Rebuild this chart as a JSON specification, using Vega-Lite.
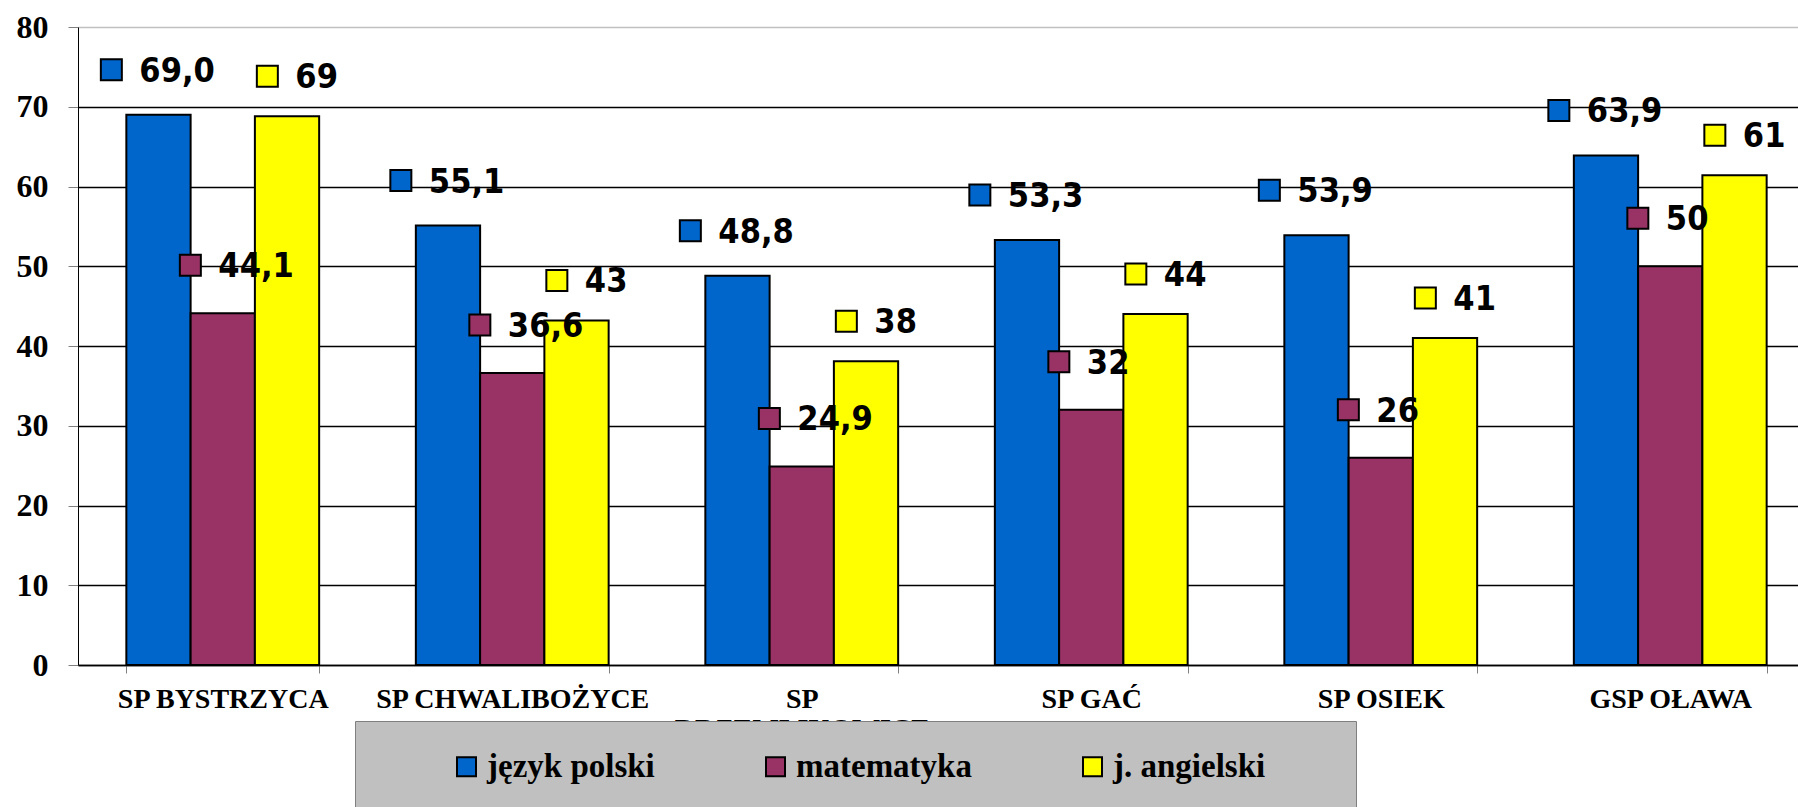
{
  "$schema": "https://vega.github.io/schema/vega-lite/v6.json",
  "width": 1720,
  "height": 638,
  "autosize": {"type": "none"},
  "padding": {"left": 78, "top": 27, "right": 0, "bottom": 142},
  "background": "white",
  "config": {"view": {"stroke": null}},
  "data": {
    "values": [
      {"school": "SP BYSTRZYCA", "series": "język polski", "value": 69.0, "label": "69,0"},
      {"school": "SP BYSTRZYCA", "series": "matematyka", "value": 44.1, "label": "44,1"},
      {"school": "SP BYSTRZYCA", "series": "j. angielski", "value": 68.8, "label": "69"},
      {"school": "SP CHWALIBOŻYCE", "series": "język polski", "value": 55.1, "label": "55,1"},
      {"school": "SP CHWALIBOŻYCE", "series": "matematyka", "value": 36.6, "label": "36,6"},
      {"school": "SP CHWALIBOŻYCE", "series": "j. angielski", "value": 43.2, "label": "43"},
      {"school": "SP DRZEMLIKOWICE", "series": "język polski", "value": 48.8, "label": "48,8"},
      {"school": "SP DRZEMLIKOWICE", "series": "matematyka", "value": 24.9, "label": "24,9"},
      {"school": "SP DRZEMLIKOWICE", "series": "j. angielski", "value": 38.1, "label": "38"},
      {"school": "SP GAĆ", "series": "język polski", "value": 53.3, "label": "53,3"},
      {"school": "SP GAĆ", "series": "matematyka", "value": 32, "label": "32"},
      {"school": "SP GAĆ", "series": "j. angielski", "value": 44.0, "label": "44"},
      {"school": "SP OSIEK", "series": "język polski", "value": 53.9, "label": "53,9"},
      {"school": "SP OSIEK", "series": "matematyka", "value": 26, "label": "26"},
      {"school": "SP OSIEK", "series": "j. angielski", "value": 41.0, "label": "41"},
      {"school": "GSP OŁAWA", "series": "język polski", "value": 63.9, "label": "63,9"},
      {"school": "GSP OŁAWA", "series": "matematyka", "value": 50, "label": "50"},
      {"school": "GSP OŁAWA", "series": "j. angielski", "value": 61.4, "label": "61"}
    ]
  },
  "encoding": {
    "x": {
      "field": "school",
      "type": "nominal",
      "sort": null,
      "scale": {"range": [0, 1737], "paddingInner": 0.334, "paddingOuter": 0.167},
      "axis": {
        "title": null,
        "labelAngle": 0,
        "labelFont": "Liberation Serif",
        "labelFontWeight": "bold",
        "labelFontSize": 28,
        "labelColor": "black",
        "labelPadding": 12,
        "labelLimit": 400,
        "labelOverlap": false,
        "labelLineHeight": 30,
        "labelExpr": "datum.label == 'SP DRZEMLIKOWICE' ? ['SP', 'DRZEMLIKOWICE'] : datum.label",
        "domainColor": "black",
        "domainWidth": 1.5,
        "tickColor": "#808080",
        "tickSize": 8,
        "tickWidth": 1,
        "tickBand": "extent",
        "grid": false
      }
    },
    "y": {
      "field": "value",
      "type": "quantitative",
      "scale": {"domain": [0, 80], "nice": false},
      "axis": {
        "title": null,
        "values": [0, 10, 20, 30, 40, 50, 60, 70, 80],
        "labelFont": "Liberation Serif",
        "labelFontWeight": "bold",
        "labelFontSize": 32,
        "labelColor": "black",
        "labelPadding": 20,
        "tickSize": 10,
        "tickColor": "#808080",
        "domainColor": "black",
        "domainWidth": 1,
        "grid": true,
        "gridColor": {"condition": {"test": "datum.value === 80", "value": "#c0c0c0"}, "value": "black"},
        "gridWidth": 1.5,
        "gridOpacity": 1
      }
    }
  },
  "layer": [
    {
      "mark": {"type": "bar", "stroke": "black", "strokeWidth": 2},
      "encoding": {
        "xOffset": {"field": "series", "type": "nominal", "sort": ["język polski", "matematyka", "j. angielski"], "scale": {"paddingInner": 0, "paddingOuter": 0}},
        "color": {
          "field": "series",
          "type": "nominal",
          "scale": {"domain": ["język polski", "matematyka", "j. angielski"], "range": ["#0066CC", "#993366", "#FFFF00"]},
          "legend": {
            "orient": "none",
            "legendX": 277,
            "legendY": 694,
            "direction": "horizontal",
            "title": "\u00a0",
            "titleOrient": "right",
            "titleFontSize": 1,
            "titlePadding": 62,
            "fillColor": "#c0c0c0",
            "strokeColor": "#808080",
            "padding": 29,
            "symbolType": "square",
            "symbolSize": 361,
            "symbolStrokeColor": "black",
            "symbolStrokeWidth": 2,
            "symbolOpacity": 1,
            "symbolOffset": 66,
            "labelFont": "Liberation Serif",
            "labelFontWeight": "bold",
            "labelFontSize": 33,
            "labelColor": "black",
            "labelOffset": 4,
            "labelLimit": 400,
            "columnPadding": 38
          }
        }
      }
    },
    {
      "transform": [{"filter": "datum.series === 'język polski'"}],
      "mark": {"type": "square", "size": 441, "filled": true, "fill": "#0066CC", "stroke": "black", "strokeWidth": 2, "opacity": 1, "xOffset": -15, "yOffset": -45},
      "encoding": {"x": {"field": "school", "type": "nominal", "sort": null, "bandPosition": 0}}
    },
    {
      "transform": [{"filter": "datum.series === 'matematyka'"}],
      "mark": {"type": "square", "size": 441, "filled": true, "fill": "#993366", "stroke": "black", "strokeWidth": 2, "opacity": 1, "xOffset": 64, "yOffset": -48},
      "encoding": {"x": {"field": "school", "type": "nominal", "sort": null, "bandPosition": 0}}
    },
    {
      "transform": [{"filter": "datum.series === 'j. angielski'"}],
      "mark": {"type": "square", "size": 441, "filled": true, "fill": "#FFFF00", "stroke": "black", "strokeWidth": 2, "opacity": 1, "xOffset": 141, "yOffset": -40},
      "encoding": {"x": {"field": "school", "type": "nominal", "sort": null, "bandPosition": 0}}
    },
    {
      "transform": [{"filter": "datum.series === 'język polski'"}],
      "mark": {"type": "text", "align": "left", "baseline": "middle", "font": "DejaVu Sans Condensed, DejaVu Sans", "fontWeight": "bold", "fontSize": 34, "fill": "black", "xOffset": 13, "yOffset": -43},
      "encoding": {"x": {"field": "school", "type": "nominal", "sort": null, "bandPosition": 0}, "text": {"field": "label"}}
    },
    {
      "transform": [{"filter": "datum.series === 'matematyka'"}],
      "mark": {"type": "text", "align": "left", "baseline": "middle", "font": "DejaVu Sans Condensed, DejaVu Sans", "fontWeight": "bold", "fontSize": 34, "fill": "black", "xOffset": 92, "yOffset": -46},
      "encoding": {"x": {"field": "school", "type": "nominal", "sort": null, "bandPosition": 0}, "text": {"field": "label"}}
    },
    {
      "transform": [{"filter": "datum.series === 'j. angielski'"}],
      "mark": {"type": "text", "align": "left", "baseline": "middle", "font": "DejaVu Sans Condensed, DejaVu Sans", "fontWeight": "bold", "fontSize": 34, "fill": "black", "xOffset": 169, "yOffset": -38},
      "encoding": {"x": {"field": "school", "type": "nominal", "sort": null, "bandPosition": 0}, "text": {"field": "label"}}
    }
  ]
}
